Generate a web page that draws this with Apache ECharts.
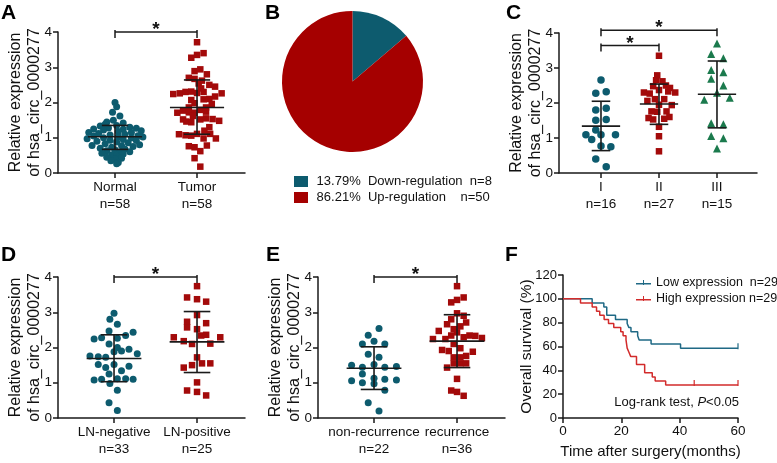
<!DOCTYPE html>
<html><head><meta charset="utf-8">
<script src="https://cdn.jsdelivr.net/npm/echarts@6/dist/echarts.min.js"></script>
<style>html,body{margin:0;padding:0;background:#fff}#c{width:777px;height:463px}</style>
</head><body><div id="c"></div>
<script>
// ---------- Panel A ----------
const A_labels = ['Normal\nn=58', 'Tumor\nn=58'];
// [x jitter (category units), relative expression]
const A_normal = [[0,2.00],[0.02,1.88],[-0.03,1.72],[0.06,1.62],[-0.02,1.50],[-0.10,1.45],[0.10,1.42],[0.02,1.35],[-0.18,1.33],[0.18,1.30],[-0.08,1.28],[0.26,1.27],[-0.26,1.25],[0.10,1.24],[-0.14,1.22],[0.32,1.20],[0.04,1.18],[-0.32,1.15],[0.20,1.15],[-0.20,1.12],[0.12,1.10],[-0.06,1.08],[0.28,1.06],[-0.26,1.05],[0.04,1.03],[0.34,1.02],[-0.14,1.00],[0.20,0.99],[-0.34,0.97],[0.10,0.95],[-0.06,0.93],[0.26,0.92],[-0.22,0.90],[0.02,0.88],[0.16,0.86],[-0.12,0.83],[0.30,0.80],[-0.28,0.78],[0.08,0.77],[0.22,0.75],[-0.04,0.73],[-0.18,0.70],[0.12,0.68],[0,0.66],[-0.10,0.63],[0.18,0.60],[0.06,0.58],[-0.16,0.56],[0.10,0.54],[-0.04,0.52],[0.02,0.48],[-0.10,0.45],[0.08,0.42],[0,0.40],[-0.05,0.35],[0.04,0.30],[0.02,0.26],[-0.12,1.38]];
const A_tumor = [[0,3.71],[0.08,3.40],[0,3.35],[-0.07,3.27],[0.04,2.94],[-0.03,2.89],[0.12,2.80],[-0.10,2.70],[-0.03,2.67],[0.02,2.54],[0.15,2.50],[0.22,2.45],[-0.29,2.24],[-0.21,2.26],[-0.14,2.30],[-0.07,2.31],[0.08,2.30],[0.30,2.26],[0.22,2.17],[0.15,2.10],[0.08,2.09],[0,2.27],[-0.07,2.07],[-0.03,1.98],[0.18,1.96],[0.11,1.86],[-0.10,1.86],[0.04,1.79],[-0.24,1.71],[-0.17,1.77],[-0.10,1.72],[-0.03,1.71],[0.11,1.74],[-0.17,1.52],[-0.13,1.46],[-0.07,1.44],[0.04,1.52],[0.11,1.55],[0.19,1.53],[0.27,1.48],[0.15,1.30],[0.09,1.20],[-0.22,1.10],[-0.14,1.07],[-0.07,1.06],[0,1.11],[0.08,0.98],[0.16,1.11],[0.23,0.98],[-0.10,0.76],[-0.03,0.73],[0.12,0.78],[0.04,0.62],[-0.03,0.42],[0.04,0.18],[0.06,2.62],[0.05,2.40],[-0.05,1.62]];
// [category, mean, mean-SD, mean+SD]
const A_stats = [[1,1.03,0.67,1.35],[2,1.86,1.10,2.64]];
// [from category, to category, bracket height]
const A_sig = [[1,2,4.0]];

// ---------- Panel B ----------
const B_names = ['Down-regulation','Up-regulation'];
const B_counts = [8, 50];
const B_pct = ['13.79%','86.21%'];

// ---------- Panel C ----------
const C_labels = ['I\nn=16','II\nn=27','III\nn=15'];
const C_g1 = [[0,2.66],[-0.09,2.28],[0.09,2.32],[-0.09,1.80],[0.09,1.85],[-0.09,1.51],[0.09,1.53],[-0.09,1.23],[-0.26,1.09],[-0.16,0.96],[0,1.09],[0.25,1.09],[0,0.77],[0.17,0.75],[-0.09,0.40],[0.09,0.18]];
const C_g2 = [[0,3.35],[-0.03,2.79],[-0.05,2.65],[0.06,2.62],[0.12,2.50],[0.19,2.43],[-0.10,2.48],[-0.26,2.30],[-0.16,2.27],[0,2.37],[0.28,2.30],[0.16,2.33],[-0.07,2.11],[0.09,2.11],[0.22,1.94],[-0.20,2.06],[0,1.95],[-0.13,1.76],[-0.03,1.75],[0.13,1.76],[0.18,1.60],[-0.18,1.57],[-0.10,1.53],[0.09,1.55],[0,1.32],[0,1.05],[0,0.62]];
const C_g3 = [[0,3.70],[-0.10,3.40],[0.11,3.28],[-0.10,2.94],[0.11,2.88],[-0.10,2.69],[0.11,2.50],[0,2.29],[-0.22,2.09],[0.22,2.15],[-0.10,1.42],[0.11,1.39],[-0.10,1.06],[0.11,0.99],[0,0.70]];
const C_stats = [[1,1.34,0.64,2.05],[2,1.97,1.39,2.54],[3,2.25,1.29,3.20]];
const C_sig = [[1,3,4.08],[1,2,3.64]];

// ---------- Panel D ----------
const D_labels = ['LN-negative\nn=33','LN-positive\nn=25'];
const D_neg = [[0,2.97],[-0.05,2.80],[0.04,2.66],[-0.06,2.47],[0.23,2.43],[0.14,2.34],[-0.24,2.24],[-0.15,2.28],[0.04,2.26],[-0.06,2.10],[0,1.88],[0.04,2.00],[0.09,1.90],[0.18,1.95],[0.28,1.82],[-0.29,1.76],[-0.19,1.74],[-0.10,1.72],[-0.19,1.52],[-0.10,1.43],[0,1.52],[0.09,1.34],[0.18,1.47],[-0.06,1.25],[-0.24,1.08],[-0.15,1.10],[-0.05,0.98],[0.04,1.11],[0.14,1.11],[0.23,1.10],[0.04,0.79],[-0.06,0.43],[0.04,0.21]];
const D_pos = [[0,3.74],[-0.12,3.42],[0,3.37],[0.11,3.30],[0,2.92],[-0.12,2.73],[0.11,2.69],[-0.12,2.57],[0,2.52],[-0.28,2.29],[-0.16,2.18],[0.05,2.34],[0.11,2.36],[0.28,2.29],[-0.06,2.10],[0.16,2.11],[0,1.72],[-0.16,1.43],[-0.06,1.50],[0.06,1.55],[0.16,1.55],[0,1.01],[-0.12,0.78],[0,0.74],[0.11,0.64]];
const D_stats = [[1,1.69,1.03,2.36],[2,2.16,1.29,3.02]];
const D_sig = [[1,2,4.0]];

// ---------- Panel E ----------
const E_labels = ['non-recurrence\nn=22','recurrence\nn=36'];
const E_non = [[0.06,2.54],[-0.07,2.35],[0,2.18],[-0.14,2.10],[0.13,2.10],[-0.07,1.81],[0.06,1.72],[-0.27,1.50],[-0.14,1.44],[0,1.52],[0.13,1.44],[0.27,1.46],[-0.14,1.25],[0,1.13],[0.13,1.10],[-0.27,1.06],[-0.14,1.00],[0,0.97],[0.27,1.08],[0.13,0.79],[-0.07,0.43],[0.06,0.20]];
const E_rec = [[0,3.74],[-0.07,3.28],[0,3.35],[0.08,3.42],[0,2.97],[0.08,2.90],[-0.07,2.80],[0.11,2.71],[-0.12,2.66],[0.04,2.60],[-0.04,2.52],[0,2.43],[-0.22,2.47],[-0.29,2.24],[-0.14,2.24],[-0.07,2.34],[0.08,2.29],[0.15,2.34],[0.22,2.33],[0.30,2.27],[-0.04,2.10],[-0.18,1.93],[-0.10,1.90],[0.04,1.98],[0.19,1.88],[0.11,1.76],[-0.04,1.72],[0.04,1.72],[-0.04,1.55],[0.04,1.55],[0.11,1.55],[-0.12,1.43],[0,1.11],[-0.07,0.78],[0,0.74],[0.08,0.63]];
const E_stats = [[1,1.41,0.81,2.02],[2,2.18,1.43,2.93]];
const E_sig = [[1,2,4.0]];

// ---------- Panel F ----------
const F_names = ['Low expression','High expression'];
const F_n = ['  n=29',' n=29'];
const F_low_t = [0,10,14,15,18,22,22.6,23.3,25.6,26.1,30.2,40.3,60];
const F_low_s = [100,96.55,93.1,86.2,82.76,79.3,75.86,72.4,68.97,65.5,62.07,58.6,58.6];
const F_high_t = [0,6,10,11.5,12.6,14.1,15.6,17.4,19.8,20.6,21.6,22.0,22.6,23.2,25.2,28.0,30.6,31.6,35.2,60];
const F_high_s = [100,96.55,93.1,89.66,86.2,82.76,79.3,75.86,72.4,68.97,65.5,58.6,55.17,51.7,44.8,37.9,34.5,31.0,27.6,27.6];
const F_low_cens = [[60,58.6]];
const F_high_cens = [[45,27.6],[60,27.6]];

// ---------- styles ----------
const FONT = '"Liberation Sans", Arial, Helvetica, sans-serif';
const AX = '#1a1a1a', TXT = '#111';
const TEAL = '#0d5b6e', RED = '#a30a0a', GREEN = '#1b7a4d';
const F_COL = ['#1f6985', '#d22b2b'];
const MW = 0.33, CW = 0.16;

function pts(arr, idx) { return arr.map(p => [idx + p[0], p[1]]); }

function errRender(params, api) {
  const x = api.value(0), m = api.value(1), lo = api.value(2), hi = api.value(3);
  const seg = (a, b) => ({type:'line', shape:{x1:a[0], y1:a[1], x2:b[0], y2:b[1]}, style:{stroke:'#1a1a1a', lineWidth:1.6}});
  return {type:'group', children:[
    seg(api.coord([x-MW, m]), api.coord([x+MW, m])),
    seg(api.coord([x, lo]), api.coord([x, hi])),
    seg(api.coord([x-CW, hi]), api.coord([x+CW, hi])),
    seg(api.coord([x-CW, lo]), api.coord([x+CW, lo]))
  ]};
}
function sigRender(params, api) {
  const x1 = api.value(0), x2 = api.value(1), y = api.value(2);
  const p1 = api.coord([x1, y]), p2 = api.coord([x2, y]);
  const st = {stroke:'#1a1a1a', lineWidth:1.5, fill:null};
  return {type:'group', children:[
    {type:'line', shape:{x1:p1[0], y1:p1[1], x2:p2[0], y2:p2[1]}, style:st},
    {type:'line', shape:{x1:p1[0], y1:p1[1]-2, x2:p1[0], y2:p1[1]+6}, style:st},
    {type:'line', shape:{x1:p2[0], y1:p2[1]-2, x2:p2[0], y2:p2[1]+6}, style:st},
    {type:'text', x:(p1[0]+p2[0])/2, y:p1[1]-2, style:{text:'*', font:'bold 19px ' + FONT, fill:'#111', align:'center', verticalAlign:'middle'}}
  ]};
}

function xCat(grid, min, max, labels) {
  const vals = labels.map((_, i) => i + 1);
  return {type:'value', gridIndex:grid, min:min, max:max, splitLine:{show:false},
    axisLine:{show:true, onZero:false, lineStyle:{color:AX, width:1.5}},
    axisTick:{show:true, customValues:vals, length:5, lineStyle:{color:AX, width:1.5}},
    axisLabel:{customValues:vals, formatter:v => labels[Math.round(v)-1] || '', fontSize:13.5, lineHeight:17, color:TXT, margin:6, fontFamily:FONT}};
}
function yRel(grid) {
  return {type:'value', gridIndex:grid, min:0, max:4, interval:1,
    name:'Relative expression\nof hsa_circ_0000277', nameLocation:'middle', nameRotate:90, nameGap:13.5, nameMoveOverlap:false,
    nameTextStyle:{fontSize:16, lineHeight:19, color:TXT, fontFamily:FONT},
    axisLine:{show:true, onZero:false, lineStyle:{color:AX, width:1.5}},
    axisTick:{show:true, length:5, lineStyle:{color:AX, width:1.5}},
    axisLabel:{fontSize:13.5, color:TXT, margin:6, fontFamily:FONT},
    splitLine:{show:false}};
}
function sc(grid, data, symbol, size, color) {
  return {type:'scatter', xAxisIndex:grid, yAxisIndex:grid, data:data, symbol:symbol, symbolSize:size,
    itemStyle:{color:color, opacity:1}, clip:false, silent:true, z:2};
}
function errS(grid, stats) {
  return {type:'custom', xAxisIndex:grid, yAxisIndex:grid, data:stats, renderItem:errRender, encode:{x:0, y:[1,2,3]}, silent:true, z:5};
}
function sigS(grid, sig) {
  return {type:'custom', xAxisIndex:grid, yAxisIndex:grid, data:sig, renderItem:sigRender, encode:{x:[0,1], y:2}, silent:true, z:5};
}

const TICKICON = 'path://M0,8H14V2H16V8H30V11H16V12H14V11H0Z';

const letters = [['A',1,3],['B',265,3],['C',506,3],['D',1,245],['E',266,245],['F',505,245]];

const option = {
  animation:false,
  textStyle:{fontFamily:FONT},
  grid:[
    {left:58, top:32, width:187, height:141},
    {left:559, top:33, width:198, height:140},
    {left:58, top:277, width:187, height:141},
    {left:318, top:277, width:187, height:141},
    {left:563, top:275, width:175, height:143}
  ],
  xAxis:[
    xCat(0, 0.305, 2.585, A_labels),
    xCat(1, 0.276, 3.69, C_labels),
    xCat(2, 0.325, 2.578, D_labels),
    xCat(3, 0.325, 2.578, E_labels),
    {type:'value', gridIndex:4, min:0, max:60, interval:20, splitLine:{show:false},
      name:'Time after surgery(months)', nameLocation:'middle', nameGap:26, nameMoveOverlap:false,
      nameTextStyle:{fontSize:15, color:TXT, fontFamily:FONT},
      axisLine:{show:true, onZero:false, lineStyle:{color:AX, width:1.5}},
      axisTick:{show:true, length:5, lineStyle:{color:AX, width:1.5}},
      axisLabel:{fontSize:13.5, color:TXT, margin:6, fontFamily:FONT}}
  ],
  yAxis:[
    yRel(0), yRel(1), yRel(2), yRel(3),
    {type:'value', gridIndex:4, min:0, max:120, interval:20, splitLine:{show:false},
      name:'Overall survival (%)', nameLocation:'middle', nameRotate:90, nameGap:28, nameMoveOverlap:false,
      nameTextStyle:{fontSize:15.5, color:TXT, fontFamily:FONT},
      axisLine:{show:true, onZero:false, lineStyle:{color:AX, width:1.5}},
      axisTick:{show:true, length:5, lineStyle:{color:AX, width:1.5}},
      axisLabel:{fontSize:13, color:TXT, margin:6, fontFamily:FONT}}
  ],
  legend:[
    {left:289, top:170, orient:'vertical', itemWidth:14, itemHeight:11, itemGap:3, icon:'rect', selectedMode:false,
      data:B_names, formatter:n => { const i = B_names.indexOf(n); return ' ' + B_pct[i] + '  ' + n + (i === 0 ? '  ' : '    ') + 'n=' + B_counts[i]; },
      textStyle:{fontSize:13, lineHeight:13, color:TXT, fontFamily:FONT}},
    {left:631, top:271, orient:'vertical', itemWidth:15, itemHeight:7, itemGap:3, selectedMode:false,
      data:F_names.map((n, i) => ({name:n, icon:TICKICON, itemStyle:{color:F_COL[i], borderWidth:0, opacity:1}})),
      formatter:n => n + F_n[F_names.indexOf(n)],
      textStyle:{fontSize:12.5, lineHeight:13, color:TXT, fontFamily:FONT}}
  ],
  graphic: letters.map(l => ({type:'text', left:l[1], top:l[2], style:{text:l[0], font:'bold 21px ' + FONT, fill:'#000'}})).concat([
    {type:'text', right:38, top:396, style:{text:'{a|Log-rank test, }{b|P}{a|<0.05}',
      rich:{a:{fontSize:13, fontFamily:FONT, fill:TXT}, b:{fontSize:13, fontFamily:FONT, fontStyle:'italic', fill:TXT}}}}
  ]),
  series:[
    // A
    sc(0, pts(A_normal, 1), 'circle', 7, TEAL),
    sc(0, pts(A_tumor, 2), 'rect', 6.5, RED),
    errS(0, A_stats), sigS(0, A_sig),
    // B
    {type:'pie', center:[352.5, 81.5], radius:70.5, startAngle:90, clockwise:true, silent:true,
      label:{show:false}, labelLine:{show:false}, itemStyle:{borderWidth:0},
      emphasis:{disabled:true},
      data:B_names.map((n, i) => ({name:n, value:B_counts[i], itemStyle:{color:[TEAL, '#a50000'][i]}}))},
    // C
    sc(1, pts(C_g1, 1), 'circle', 7.5, TEAL),
    sc(1, pts(C_g2, 2), 'rect', 6.5, RED),
    sc(1, pts(C_g3, 3), 'triangle', 8, GREEN),
    errS(1, C_stats), sigS(1, C_sig),
    // D
    sc(2, pts(D_neg, 1), 'circle', 7, TEAL),
    sc(2, pts(D_pos, 2), 'rect', 6.5, RED),
    errS(2, D_stats), sigS(2, D_sig),
    // E
    sc(3, pts(E_non, 1), 'circle', 7, TEAL),
    sc(3, pts(E_rec, 2), 'rect', 6.5, RED),
    errS(3, E_stats), sigS(3, E_sig),
    // F
    {type:'line', name:F_names[0], xAxisIndex:4, yAxisIndex:4, step:'end', symbol:'none', silent:true,
      data:F_low_t.map((t, i) => [t, F_low_s[i]]), lineStyle:{color:F_COL[0], width:1.5}, itemStyle:{color:F_COL[0]}},
    {type:'line', name:F_names[1], xAxisIndex:4, yAxisIndex:4, step:'end', symbol:'none', silent:true,
      data:F_high_t.map((t, i) => [t, F_high_s[i]]), lineStyle:{color:F_COL[1], width:1.5}, itemStyle:{color:F_COL[1]}},
    {type:'scatter', name:'cens-low', xAxisIndex:4, yAxisIndex:4, data:F_low_cens, symbol:'rect', symbolSize:[1.5,6], symbolOffset:[0,-2], itemStyle:{color:F_COL[0]}, clip:false, silent:true},
    {type:'scatter', name:'cens-high', xAxisIndex:4, yAxisIndex:4, data:F_high_cens, symbol:'rect', symbolSize:[1.5,6], symbolOffset:[0,-2], itemStyle:{color:F_COL[1]}, clip:false, silent:true}
  ]
};
const chart = echarts.init(document.getElementById('c'), null, {renderer:'canvas'});
chart.setOption(option);
</script></body></html>
